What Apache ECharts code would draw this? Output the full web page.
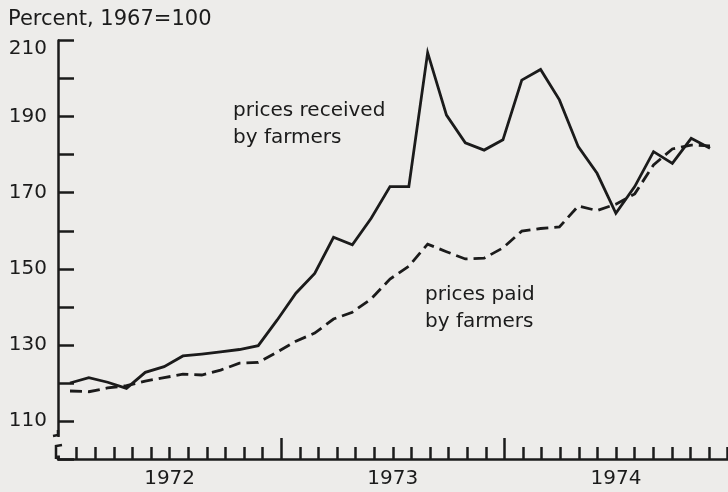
<!DOCTYPE html>
<html>
<head>
<meta charset="utf-8">
<style>
  html, body { margin: 0; padding: 0; background: #edecea; }
  #chart { width: 728px; height: 492px; }
</style>
<script src="https://cdn.jsdelivr.net/npm/echarts@6.0.0/dist/echarts.min.js"></script>
</head>
<body>
<div id="chart"></div>
<script>
// index numbers, 1967=100, monthly Jan 1972 - Nov 1974
const years = ['1972', '1973', '1974'];
const monthNames = ['Jan', 'Feb', 'Mar', 'Apr', 'May', 'Jun', 'Jul', 'Aug', 'Sep', 'Oct', 'Nov', 'Dec'];
const months = [];
years.forEach(y => monthNames.forEach(m => months.push(m + ' ' + y)));
const dataMonths = months.slice(0, 35);

const received = [120.0, 121.4, 120.2, 118.6, 122.8, 124.3, 127.1, 127.6, 128.2, 128.8,
  129.8, 136.5, 143.6, 148.8, 158.3, 156.3, 163.3, 171.6, 171.6, 206.8,
  190.4, 183.1, 181.2, 183.9, 199.6, 202.4, 194.4, 182.1, 175.1, 164.6,
  171.6, 180.8, 177.7, 184.3, 181.7];
const paid = [117.9, 117.7, 118.7, 119.3, 120.5, 121.4, 122.3, 122.1, 123.4, 125.2,
  125.4, 128.1, 131.0, 133.1, 136.8, 138.6, 142.1, 147.3, 150.7, 156.5,
  154.5, 152.6, 152.8, 155.5, 159.9, 160.6, 161.0, 166.5, 165.3, 167.0,
  169.7, 177.3, 181.5, 182.5, 182.3];
const yLabels = [110, 130, 150, 170, 190, 210];
// month offsets on the time scale: year boundaries and mid-year label spots
const yearBreaks = [12, 24];
const yearMid = [6, 18, 30];

const FONT = '"DejaVu Sans"';
const INK = '#1b1b1b';
const PAPER = '#edecea';
const axisStroke = {color: INK, width: 2.5};

const chart = echarts.init(document.getElementById('chart'));

const text = (str, x, y, size) => ({
    type: 'text', x, y, z: 110,
    style: {text: str, font: size + 'px ' + FONT, fill: INK, verticalAlign: 'middle'}
});

const option = {
    backgroundColor: PAPER,
    animation: false,
    grid: [
        {left: 58, top: 40.5, width: 669.6, height: 418.6},
        {left: 70, top: 40.5, width: 640, height: 418.6}
    ],
    xAxis: [
        {   // monthly ticks
            gridIndex: 0, type: 'value', min: 0, max: months.length, interval: 1, position: 'bottom',
            axisLine: {lineStyle: axisStroke},
            axisTick: {inside: true, length: 12, lineStyle: axisStroke},
            axisLabel: {show: false},
            splitLine: {show: false}
        },
        {   // year boundary ticks + year labels
            gridIndex: 0, type: 'value', min: 0, max: months.length, interval: 6, position: 'bottom',
            axisLine: {show: false},
            axisTick: {inside: true, length: 21, lineStyle: axisStroke, customValues: yearBreaks},
            axisLabel: {
                margin: 10, fontFamily: FONT, fontSize: 20, color: INK,
                customValues: yearMid,
                formatter: v => years[yearMid.indexOf(v)] || ''
            },
            splitLine: {show: false}
        },
        {gridIndex: 1, type: 'category', data: dataMonths, boundaryGap: false, show: false}
    ],
    yAxis: [
        {
            gridIndex: 0, type: 'value', min: 100, max: 210, interval: 10,
            axisLine: {show: true, lineStyle: axisStroke},
            axisTick: {inside: true, length: 16, lineStyle: axisStroke},
            axisLabel: {
                margin: 11, fontFamily: FONT, fontSize: 20, color: INK,
                formatter: v => yLabels.includes(v) ? (v === 210 ? '{top|210}' : String(v)) : '',
                rich: {top: {padding: [16, 0, 0, 0], fontFamily: FONT, fontSize: 20, color: INK}}
            },
            splitLine: {show: false}
        },
        {gridIndex: 1, type: 'value', min: 100, max: 210, show: false}
    ],
    series: [
        {
            name: 'prices paid by farmers', type: 'line', xAxisIndex: 2, yAxisIndex: 1,
            data: paid, symbol: 'none', z: 3,
            lineStyle: {color: INK, width: 2.8, type: [12, 6], join: 'miter'}
        },
        {
            name: 'prices received by farmers', type: 'line', xAxisIndex: 2, yAxisIndex: 1,
            data: received, symbol: 'none', z: 4,
            lineStyle: {color: INK, width: 2.8, join: 'miter'}
        }
    ],
    graphic: [
        // axis break
        {type: 'rect', z: 100, shape: {x: 50, y: 437, width: 14, height: 18.5}, style: {fill: PAPER}},
        {type: 'polyline', z: 101, shape: {points: [[58, 430], [58, 435], [53, 436]]},
            style: {stroke: INK, lineWidth: 2.5, fill: null}},
        {type: 'polyline', z: 101, shape: {points: [[56, 459], [56, 446], [62, 445]]},
            style: {stroke: INK, lineWidth: 2.5, fill: null}},
        text('Percent, 1967=100', 8, 19.5, 21),
        text('prices received', 233, 111, 20),
        text('by farmers', 233, 138, 20),
        text('prices paid', 425, 295, 20),
        text('by farmers', 425, 321.5, 20)
    ]
};

chart.setOption(option);
</script>
</body>
</html>
